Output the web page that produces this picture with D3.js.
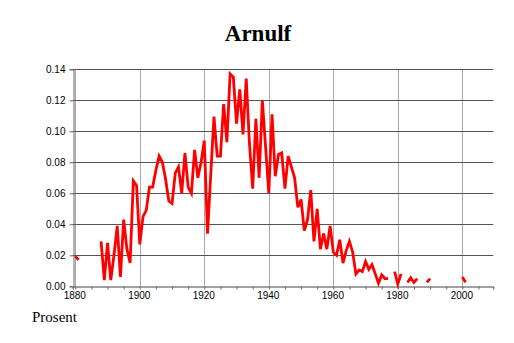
<!DOCTYPE html>
<html>
<head>
<meta charset="utf-8">
<script src="https://cdn.jsdelivr.net/npm/d3@7"></script>
<style>
  body { margin: 0; background: #fff; }
  svg { display: block; }
  .tick text { font-family: "Liberation Sans", Arial, sans-serif; font-size: 10px; fill: #000; }
</style>
</head>
<body>
<div id="chart"></div>
<script>
// share of newborns named Arnulf, per year (null = no data)
const years = d3.range(1880, 2002)
const values = [
  0.0195, 0.017, null, null, null, null, null, null,
  0.029, 0.004, 0.028, 0.004, 0.020, 0.039, 0.006, 0.043, 0.024, 0.015, 0.068, 0.065,
  0.027, 0.045, 0.049, 0.064, 0.064, 0.075, 0.084, 0.080, 0.069, 0.055,
  0.0535, 0.073, 0.077, 0.060, 0.086, 0.064, 0.060, 0.088, 0.070, 0.080,
  0.094, 0.034, 0.072, 0.1095, 0.084, 0.084, 0.1175, 0.093, 0.137, 0.135,
  0.105, 0.127, 0.098, 0.134, 0.092, 0.063, 0.108, 0.070, 0.120, 0.090,
  0.060, 0.111, 0.071, 0.085, 0.086, 0.063, 0.084, 0.077, 0.070, 0.051,
  0.056, 0.036, 0.043, 0.062, 0.029, 0.050, 0.024, 0.034, 0.024, 0.039,
  0.022, 0.020, 0.030, 0.015, 0.023, 0.029, 0.022, 0.008, 0.0105, 0.0095,
  0.016, 0.011, 0.014, 0.008, 0.002, 0.0073, 0.005, 0.005, null, 0.0095,
  0.0015, 0.008, null, 0.0025, 0.0055, 0.0025, 0.005, null, null, 0.0025,
  0.005, null, null, null, null, null, null, null, null, null,
  0.006, 0.0026
]
const yTicks = [0, 0.02, 0.04, 0.06, 0.08, 0.10, 0.12, 0.14]
const xTicks = [1880, 1900, 1920, 1940, 1960, 1980, 2000]

const data = years.map((y, i) => ({year: y, value: values[i]}))

var width = 514, height = 343

const svg = d3.select("#chart")
    .append("svg")
        .attr("width", width)
        .attr("height", height)

const x = d3.scaleLinear().domain([1879.2, 2009.6]).range([72.7, 493.3])
const y = d3.scaleLinear().domain([0, 0.14]).range([286.3, 69.3])

// vertical grid
svg.append("g")
    .selectAll("line")
    .data(xTicks)
    .enter()
    .append("line")
        .attr("x1", d => Math.round(x(d)) + 0.5)
        .attr("x2", d => Math.round(x(d)) + 0.5)
        .attr("y1", y(0.14))
        .attr("y2", y(0))
        .attr("stroke", "#a8a8a8")

// horizontal grid
svg.append("g")
    .selectAll("line")
    .data(yTicks.slice(1))
    .enter()
    .append("line")
        .attr("x1", x.range()[0])
        .attr("x2", x.range()[1])
        .attr("y1", d => Math.round(y(d)) + 0.5)
        .attr("y2", d => Math.round(y(d)) + 0.5)
        .attr("stroke", "#555")

// x axis
const xAxis = svg.append("g")
    .attr("transform", "translate(0," + (Math.round(y(0)) + 0.5) + ")")
    .call(d3.axisBottom(x)
        .tickValues(d3.range(1880, 2010, 5))
        .tickSize(3)
        .tickFormat(d => xTicks.includes(d) ? d : ""))
xAxis.select(".domain").attr("stroke", "#444")
xAxis.selectAll(".tick line").attr("stroke", "#666")
xAxis.selectAll(".tick text").attr("dy", "0.6em").attr("dx", "-1")

// y axis
const yAxis = svg.append("g")
    .attr("transform", "translate(" + (Math.round(x.range()[0]) + 0.5) + ",0)")
    .call(d3.axisLeft(y)
        .tickValues(yTicks)
        .tickSize(4)
        .tickPadding(4)
        .tickFormat(d3.format(".2f")))
yAxis.select(".domain").attr("stroke", "#666")
yAxis.selectAll(".tick line").attr("stroke", "#666")

// series line
const line = d3.line()
    .defined(d => d.value !== null)
    .x(d => x(d.year))
    .y(d => y(d.value))

svg.append("path")
    .datum(data)
    .attr("d", line)
    .attr("fill", "none")
    .attr("stroke", "#ff0000")
    .attr("stroke-width", 2.8)
    .attr("stroke-linejoin", "miter")

svg.append("text")
    .attr("x", 258)
    .attr("y", 41)
    .attr("text-anchor", "middle")
    .style("font-family", "'Liberation Serif', 'Times New Roman', serif")
    .style("font-weight", "bold")
    .style("font-size", "23px")
    .text("Arnulf")

svg.append("text")
    .attr("x", 32)
    .attr("y", 322)
    .style("font-family", "'Liberation Serif', 'Times New Roman', serif")
    .style("font-size", "15px")
    .text("Prosent")
</script>
</body>
</html>
